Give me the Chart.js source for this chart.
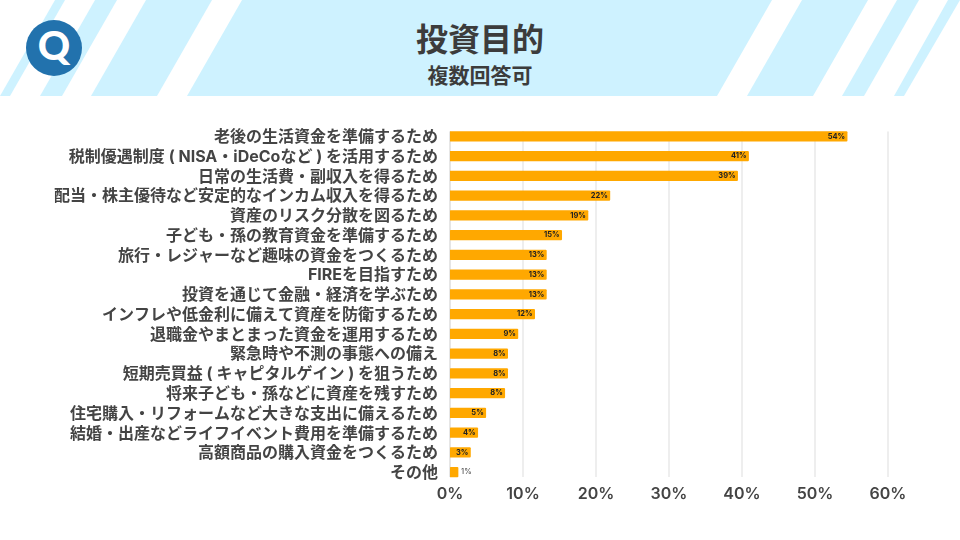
<!DOCTYPE html>
<html lang="ja">
<head>
<meta charset="utf-8">
<title>投資目的</title>
<script src="https://cdn.jsdelivr.net/npm/chart.js@4"></script>
<style>
    html, body { margin: 0; padding: 0; background: #fff; }
    body { position: relative; width: 960px; height: 540px; overflow: hidden; font-family: "Noto Sans CJK JP", sans-serif; }
    #header { position: absolute; left: 0; top: 0; }
    #chart { position: absolute; left: 0; top: 0; }
    .title, .subtitle { position: absolute; left: 0; width: 960px; text-align: center; color: #3c3c3c; font-weight: 700; }
    .title { top: 14px; font-size: 32px; line-height: 46px; }
    .subtitle { top: 58px; font-size: 21px; line-height: 32px; }
</style>
</head>
<body>
<svg id="header" width="960" height="96" viewBox="0 0 960 96">
    <g fill="#cef2ff">
        <polygon points="55,0 65,0 10,96 0,96"/>
        <polygon points="95,0 117,0 62,96 40,96"/>
        <polygon points="146,0 212,0 157,96 91,96"/>
        <polygon points="242,0 772,0 717,96 187,96"/>
        <polygon points="802,0 868,0 813,96 747,96"/>
        <polygon points="897,0 919,0 864,96 842,96"/>
        <polygon points="948,0 960,0 904,96 894,96"/>
    </g>
    <circle cx="54" cy="48" r="28" fill="#2272ad"/>
    <text x="54" y="60" text-anchor="middle" font-family="Lato" font-weight="900" font-size="40" fill="#fff">Q</text>
</svg>
<div class="title">投資目的</div>
<div class="subtitle">複数回答可</div>
<canvas id="chart" width="960" height="540"></canvas>
<script>
const categories = [
    '老後の生活資金を準備するため',
    '税制優遇制度 ( NISA・iDeCoなど ) を活用するため',
    '日常の生活費・副収入を得るため',
    '配当・株主優待など安定的なインカム収入を得るため',
    '資産のリスク分散を図るため',
    '子ども・孫の教育資金を準備するため',
    '旅行・レジャーなど趣味の資金をつくるため',
    'FIREを目指すため',
    '投資を通じて金融・経済を学ぶため',
    'インフレや低金利に備えて資産を防衛するため',
    '退職金やまとまった資金を運用するため',
    '緊急時や不測の事態への備え',
    '短期売買益 ( キャピタルゲイン ) を狙うため',
    '将来子ども・孫などに資産を残すため',
    '住宅購入・リフォームなど大きな支出に備えるため',
    '結婚・出産などライフイベント費用を準備するため',
    '高額商品の購入資金をつくるため',
    'その他'
];
const values = [54.4, 40.9, 39.4, 21.9, 18.9, 15.3, 13.2, 13.2, 13.2, 11.6, 9.3, 7.9, 7.9, 7.5, 4.9, 3.8, 2.8, 1.1];
const valueLabels = ['54%', '41%', '39%', '22%', '19%', '15%', '13%', '13%', '13%', '12%', '9%', '8%', '8%', '8%', '5%', '4%', '3%', '1%'];
const xTicks = [0, 10, 20, 30, 40, 50, 60];

const fontFamily = 'Inter, "Noto Sans CJK JP", sans-serif';
const textColor = '#444444';

// grid only spans from the first bar to the last one, chart.js grid would run the full plot height
const shortGrid = {
    id: 'shortGrid',
    beforeDatasetsDraw(chart) {
        const { ctx, scales } = chart;
        const bars = chart.getDatasetMeta(0).data;
        const top = bars[0].y - bars[0].height / 2;
        const bottom = bars[bars.length - 1].y + bars[bars.length - 1].height / 2;
        ctx.save();
        xTicks.forEach((v) => {
            const x = scales.x.getPixelForValue(v);
            ctx.strokeStyle = v === 0 ? '#cccccc' : '#e8e8e8';
            ctx.lineWidth = v === 0 ? 1 : 1.5;
            ctx.beginPath();
            ctx.moveTo(x, top);
            ctx.lineTo(x, bottom);
            ctx.stroke();
        });
        ctx.restore();
    }
};

// percent labels on the bars, the last one sits outside because its bar is too short
const barLabels = {
    id: 'barLabels',
    afterDatasetsDraw(chart) {
        const { ctx } = chart;
        const bars = chart.getDatasetMeta(0).data;
        ctx.save();
        ctx.textBaseline = 'middle';
        bars.forEach((bar, i) => {
            const outside = i === bars.length - 1;
            ctx.font = (outside ? '500' : '700') + ' 7.5px ' + fontFamily;
            ctx.fillStyle = outside ? '#555555' : '#222222';
            ctx.textAlign = outside ? 'left' : 'right';
            ctx.fillText(valueLabels[i], outside ? bar.x + 3 : bar.x - 2, bar.y);
        });
        ctx.restore();
    }
};

new Chart(document.getElementById('chart'), {
    type: 'bar',
    plugins: [shortGrid, barLabels],
    data: {
        labels: categories,
        datasets: [{
            data: values,
            backgroundColor: '#ffa800',
            borderRadius: 1,
            borderSkipped: false,
            barThickness: 9.6
        }]
    },
    options: {
        indexAxis: 'y',
        responsive: false,
        animation: false,
        layout: { padding: { top: 126.4, right: 72, bottom: 37.9, left: 0 } },
        plugins: { legend: { display: false }, tooltip: { enabled: false } },
        scales: {
            x: {
                min: 0,
                max: 60,
                afterBuildTicks(axis) {
                    axis.ticks = xTicks.map((v) => ({ value: v }));
                },
                afterFit(axis) { axis.height = 20; },
                ticks: {
                    color: textColor,
                    padding: 2,
                    maxRotation: 0,
                    font: { family: fontFamily, size: 16, weight: 600 },
                    callback: (v) => v + '%'
                },
                grid: { display: false, drawTicks: false },
                border: { display: false }
            },
            y: {
                afterFit(axis) { axis.width = 450; },
                ticks: {
                    color: textColor,
                    padding: 12,
                    labelOffset: 1,
                    autoSkip: false,
                    font: { family: fontFamily, size: 16, weight: 700 }
                },
                grid: { display: false, drawTicks: false },
                border: { display: false }
            }
        }
    }
});
</script>
</body>
</html>
